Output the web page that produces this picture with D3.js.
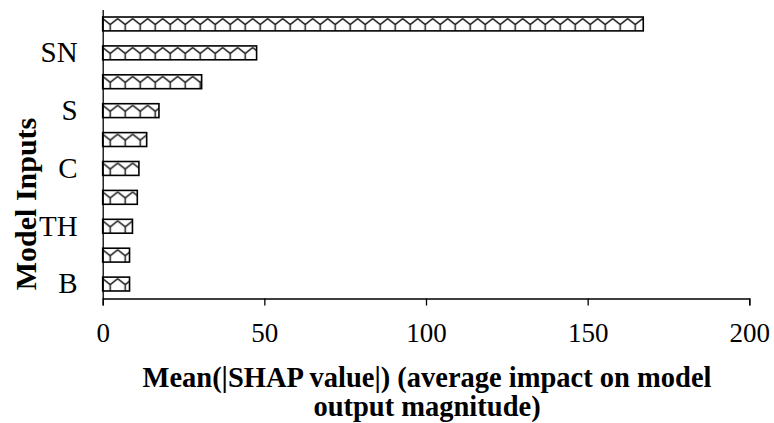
<!DOCTYPE html>
<html>
<head>
<meta charset="utf-8">
<script src="https://cdn.jsdelivr.net/npm/d3@7"></script>
<style>
  html, body { margin: 0; padding: 0; background: #fff; }
  svg { display: block; }
  text { font-family: "Liberation Serif", "Times New Roman", serif; fill: #000; }
</style>
</head>
<body>
<svg id="chart" width="774" height="423"></svg>
<script>
// Mean |SHAP| per model input, ordered from largest to smallest impact
const inputIds = ["f1", "f2", "f3", "f4", "f5", "f6", "f7", "f8", "f9", "f10"];
const inputLabels = ["", "SN", "", "S", "", "C", "", "TH", "", "B"];
const meanShap = [167.2, 47.6, 30.6, 17.4, 13.6, 11.2, 10.7, 9.2, 8.3, 8.3];
const xTicks = [0, 50, 100, 150, 200];

const svg = d3.select("#chart");
const margin = { left: 102.7, right: 24.7, top: 9.5, bottom: 124.5 };
const W = 774, H = 423;

const x = d3.scaleLinear()
  .domain([0, 200])
  .range([margin.left, W - margin.right]);

const y = d3.scaleBand()
  .domain(inputIds)
  .range([margin.top, H - margin.bottom])
  .paddingInner(0.52)
  .paddingOuter(0.26);

// Hatch fill: one tile per band step so every bar starts at the same phase
const defs = svg.append("defs");
const bw = y.bandwidth();
const pat = defs.append("pattern")
  .attr("id", "hatch")
  .attr("patternUnits", "userSpaceOnUse")
  .attr("x", x(0))
  .attr("y", y(inputIds[0]))
  .attr("width", 15)
  .attr("height", y.step());
pat.append("rect").attr("width", 15).attr("height", y.step()).attr("fill", "#fff");
pat.append("path")
  .attr("d", `M0,1.5 L7.5,${bw * 0.55} L15,1.5 M7.5,${bw * 0.55} L7.5,${bw}`)
  .attr("fill", "none")
  .attr("stroke", "#111")
  .attr("stroke-width", 1.4);

// Bars
svg.append("g")
  .selectAll("rect")
  .data(meanShap)
  .join("rect")
  .attr("x", x(0))
  .attr("y", (d, i) => y(inputIds[i]))
  .attr("width", d => x(d) - x(0))
  .attr("height", bw)
  .attr("fill", "url(#hatch)")
  .attr("stroke", "#000")
  .attr("stroke-width", 1.6);

// X axis
const xAxis = svg.append("g")
  .attr("transform", `translate(0,${H - margin.bottom})`)
  .call(d3.axisBottom(x).tickValues(xTicks).tickSizeOuter(0).tickSize(7).tickPadding(17));
xAxis.select(".domain").attr("stroke", "#000").attr("stroke-width", 1.3);
xAxis.selectAll(".tick line").attr("stroke", "#000").attr("stroke-width", 1.3);
xAxis.selectAll(".tick text")
  .style("font-family", "'Liberation Serif', serif")
  .style("font-size", "27px")
  .attr("fill", "#000");

// Y axis
const yAxis = svg.append("g")
  .attr("transform", `translate(${margin.left},0)`)
  .call(d3.axisLeft(y).tickSize(0).tickSizeOuter(0).tickPadding(25)
    .tickFormat((d, i) => inputLabels[i]));
yAxis.select(".domain").attr("stroke", "#000").attr("stroke-width", 1.3);
yAxis.selectAll(".tick text")
  .style("font-family", "'Liberation Serif', serif")
  .style("font-size", "29px")
  .attr("fill", "#000");

// Axis titles
const xTitle = svg.append("text")
  .attr("text-anchor", "middle")
  .style("font-size", "28.5px")
  .style("font-weight", "bold");
xTitle.append("tspan").attr("x", 427).attr("y", 387)
  .text("Mean(|SHAP value|) (average impact on model");
xTitle.append("tspan").attr("x", 427).attr("y", 416)
  .text("output magnitude)");

svg.append("text")
  .attr("transform", "translate(36,204) rotate(-90)")
  .attr("text-anchor", "middle")
  .style("font-size", "30px")
  .style("font-weight", "bold")
  .text("Model Inputs");
</script>
</body>
</html>
